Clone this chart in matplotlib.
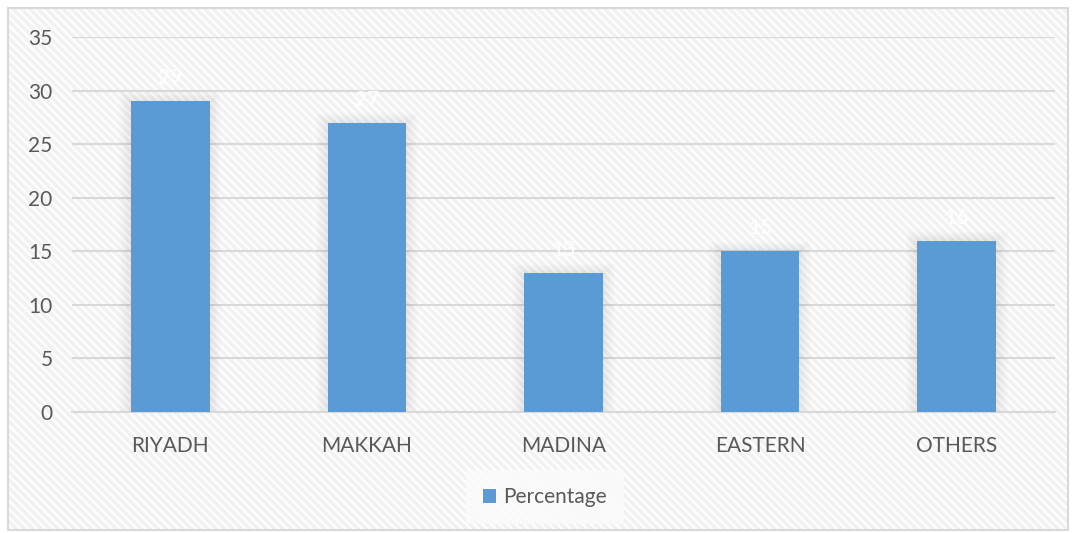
import matplotlib
matplotlib.use("Agg")
from matplotlib import pyplot as plt
from matplotlib.patches import Rectangle
import numpy as np

regions = ["RIYADH", "MAKKAH", "MADINA", "EASTERN", "OTHERS"]
percentage = [29, 27, 13, 15, 16]
yticks = [0, 5, 10, 15, 20, 25, 30, 35]

bar_color = "#5B9BD5"
text_color = "#595959"
grid_color = "#D9D9D9"

plt.rcParams["font.family"] = ["Lato", "DejaVu Sans"]
plt.rcParams["hatch.linewidth"] = 1.6

fig = plt.figure(figsize=(10.75, 5.33), dpi=100)
fig.patch.set_facecolor("white")

# patterned chart background with a thin gray border
box = (8 / 1075, 3 / 533)
bw, bh = 1060 / 1075, 522 / 533
fig.patches.append(Rectangle(box, bw, bh, transform=fig.transFigure,
                             facecolor="#F2F2F2", edgecolor="none", zorder=-3))
fig.patches.append(Rectangle(box, bw, bh, transform=fig.transFigure, facecolor="none",
                             edgecolor="white", linewidth=0, hatch="\\\\\\\\", zorder=-2))
fig.patches.append(Rectangle(box, bw, bh, transform=fig.transFigure, facecolor="none",
                             edgecolor=grid_color, linewidth=1.5, zorder=-1))

ax = fig.add_axes([72 / 1075, 121 / 533, 983 / 1075, 375 / 533])
ax.set_zorder(2)
ax.patch.set_alpha(0)
x = np.arange(len(regions))

# soft shadow around the bars
for i in range(6):
    grow = 0.01 * (i + 1)
    ax.bar(x, np.array(percentage) + grow * 15, width=0.4 + 2 * grow, color="black",
           alpha=0.012, zorder=1, linewidth=0)

bars = ax.bar(x, percentage, width=0.4, color=bar_color, zorder=3)

for xi, v in zip(x, percentage):
    ax.text(xi, v + 1.2, str(v), ha="center", va="bottom", color="white",
            fontsize=15, zorder=4)

ax.set_ylim(0, 35)
ax.set_xlim(-0.5, len(regions) - 0.5)
ax.set_yticks(yticks)
ax.set_xticks(x)
ax.set_xticklabels(regions)
ax.tick_params(axis="both", length=0, labelsize=15, colors=text_color)
ax.tick_params(axis="x", pad=17)
ax.tick_params(axis="y", pad=14)
ax.yaxis.grid(True, color=grid_color, linewidth=1.5, zorder=0)
ax.set_axisbelow(True)
for s in ["top", "right", "left"]:
    ax.spines[s].set_visible(False)
ax.spines["bottom"].set_color(grid_color)
ax.spines["bottom"].set_linewidth(1.5)

leg = ax.legend([bars], ["Percentage"], loc="center", bbox_to_anchor=(545 / 1075, 36 / 533),
                bbox_transform=fig.transFigure, frameon=True, fontsize=15,
                handlelength=0.65, handleheight=0.65, handletextpad=0.35,
                borderpad=0.8, fancybox=False, labelcolor=text_color)
leg.get_frame().set_facecolor("#FBFBFB")
leg.get_frame().set_edgecolor("none")

fig.savefig("out.png", dpi=100)
